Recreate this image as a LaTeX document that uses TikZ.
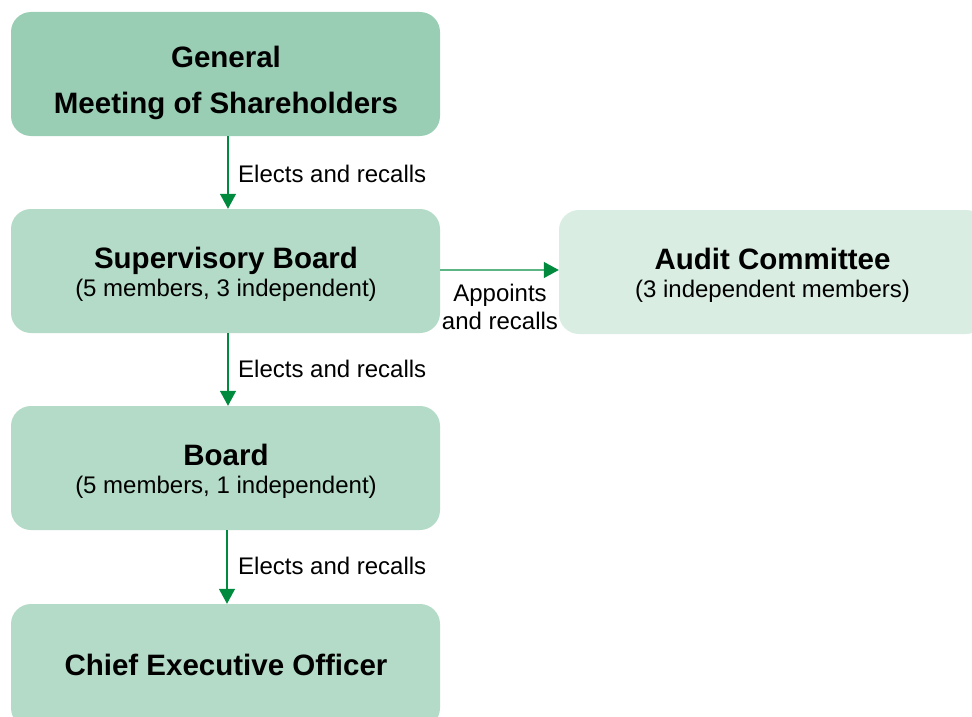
\documentclass[tikz,border=0pt]{standalone}
\usepackage{fontspec}
\setmainfont{Liberation Sans}
\usetikzlibrary{arrows.meta}
\definecolor{gmsfill}{HTML}{99CEB4}
\definecolor{boxfill}{HTML}{B3DBC7}
\definecolor{auditfill}{HTML}{D9EDE2}
\definecolor{arrgreen}{HTML}{008A3E}
\definecolor{linegreen}{HTML}{5DB585}
\tikzset{
  box/.style={rectangle, rounded corners=20pt, draw=none, minimum height=124pt, inner sep=0pt},
  ttl/.style={font=\bfseries\fontsize{29.5}{34}\selectfont, anchor=base, inner sep=0pt},
  sub/.style={font=\fontsize{24}{28}\selectfont, anchor=base, inner sep=0pt},
  lbl/.style={font=\fontsize{24}{28}\selectfont, inner sep=0pt},
  arr/.style={draw=arrgreen, line width=1.3pt, -{Triangle[length=15pt,width=16pt]}},
  harr/.style={draw=linegreen, line width=1.3pt, -{Triangle[length=15pt,width=16pt,color=arrgreen,fill=arrgreen]}}
}
\begin{document}
\begin{tikzpicture}[x=1pt,y=-1pt]
\useasboundingbox (0,0) rectangle (972,717);
\clip (0,0) rectangle (972,717);
% boxes
\node[box, fill=gmsfill, minimum width=429pt] (gms) at (225.5,74) {};
\node[box, fill=boxfill, minimum width=429pt] (sb) at (225.5,271) {};
\node[box, fill=auditfill, minimum width=427pt] (audit) at (772.5,272) {};
\node[box, fill=boxfill, minimum width=429pt] (board) at (225.5,468) {};
\node[box, fill=boxfill, minimum width=429pt] (ceo) at (225.5,666) {};
% texts
\node[ttl] (t1a) at (226,67) {General};
\node[ttl] (t1b) at (226,113) {Meeting of Shareholders};
\node[ttl] (t2a) at (226,268) {Supervisory Board};
\node[sub] (t2b) at (226,296) {(5 members, 3 independent)};
\node[ttl] (t3a) at (772.5,269) {Audit Committee};
\node[sub] (t3b) at (772.5,297) {(3 independent members)};
\node[ttl] (t4a) at (226,465) {Board};
\node[sub] (t4b) at (226,493) {(5 members, 1 independent)};
\node[ttl] (t5a) at (226,675) {Chief Executive Officer};
% connectors
\draw[arr] ([xshift=2.5pt]gms.south) -- ([xshift=2.5pt]sb.north);
\draw[arr] ([xshift=2.5pt]sb.south) -- ([xshift=2.5pt]board.north);
\draw[arr] ([xshift=1.5pt]board.south) -- ([xshift=1.5pt]ceo.north);
\draw[harr] ([yshift=1pt]sb.east) -- ([yshift=1pt]sb.east -| audit.west);
% labels
\node[lbl, anchor=west] (l1) at (238,174) {Elects and recalls};
\node[lbl, anchor=west] (l2) at (238,369) {Elects and recalls};
\node[lbl, anchor=west] (l3) at (238,566) {Elects and recalls};
\node[lbl, align=center] (l4) at (500,307) {Appoints\\and recalls};
\end{tikzpicture}
\end{document}
